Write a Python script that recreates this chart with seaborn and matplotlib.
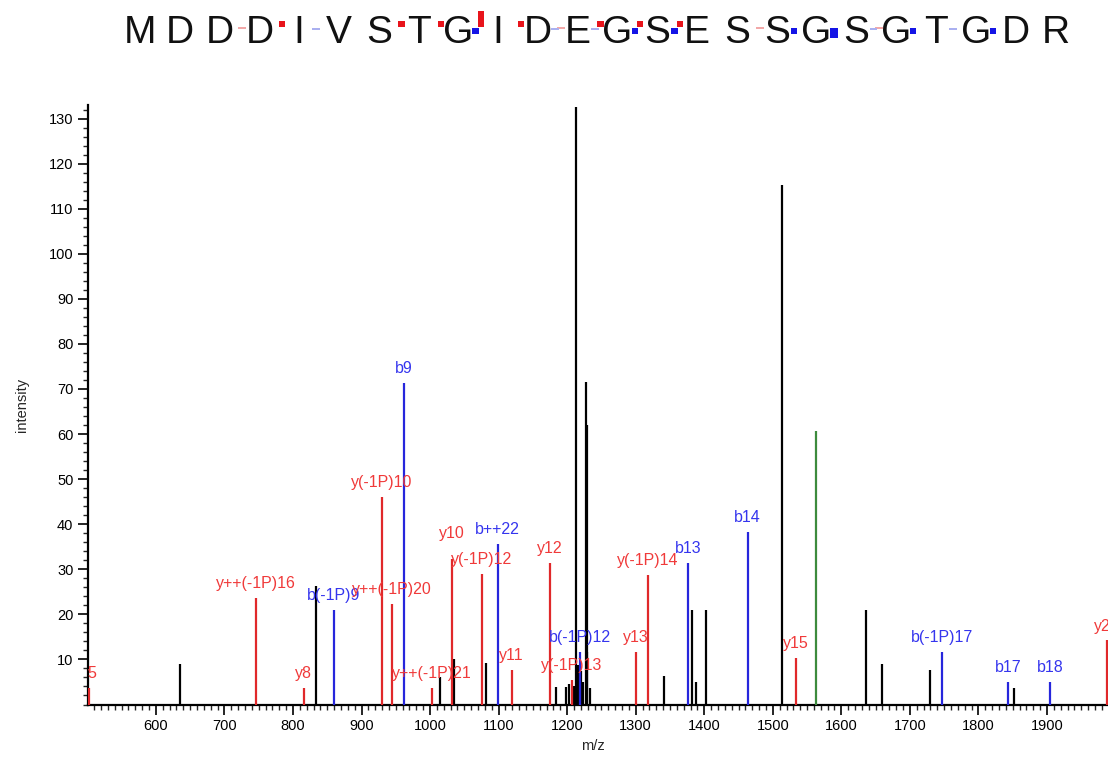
import matplotlib
matplotlib.use('Agg')
import numpy as np
import pandas as pd
import seaborn as sns
import matplotlib.pyplot as plt
from matplotlib.ticker import MultipleLocator, FixedLocator

# peptide shown above the spectrum
sequence = list('MDDDIVSTGIDEGSESSGSGTGDR')
# coverage per cleavage site (after residue k): 0 none, 1 weak, 2 medium, 3 strong
y_cov = [0, 0, 1, 2, 0, 0, 2, 2, 3, 2, 1, 2, 2, 2, 0, 1, 0, 0, 1, 0, 0, 0, 0]
b_cov = [0, 0, 0, 0, 1, 0, 0, 0, 2, 0, 1, 1, 2, 2, 0, 0, 2, 3, 1, 2, 1, 2, 0]

# spectrum peaks
mz = [502.7, 635.0, 745.9, 815.5, 833.0, 859.3, 929.7, 944.3, 961.8, 1002.7,
      1014.4, 1031.4, 1034.3, 1075.6, 1081.5, 1098.5, 1119.0, 1174.8, 1183.6,
      1197.8, 1203.0, 1206.5, 1209.9, 1212.8, 1215.5, 1218.6, 1220.5, 1222.5,
      1227.4, 1228.6, 1229.6, 1233.2, 1300.3, 1317.8, 1341.2, 1376.2, 1381.6,
      1387.9, 1402.5, 1463.3, 1513.3, 1533.8, 1562.7, 1635.9, 1659.2, 1729.3,
      1746.8, 1843.1, 1851.8, 1904.3, 1987.5]
intensity = [3.7, 8.9, 23.6, 3.7, 26.4, 20.9, 46.0, 22.3, 71.3, 3.7,
             6.1, 32.3, 10.2, 29.0, 9.1, 35.6, 7.6, 31.5, 3.8,
             3.8, 4.5, 5.4, 4.0, 132.5, 8.7, 11.7, 7.5, 5.0,
             71.6, 62.0, 11.7, 3.6, 11.7, 28.8, 6.3, 31.5, 21.0,
             5.0, 21.0, 38.2, 115.2, 10.3, 60.7, 20.9, 8.9, 7.6,
             11.6, 5.0, 3.6, 5.0, 14.2]
ion = ['y', 'o', 'y', 'y', 'o', 'b', 'y', 'y', 'b', 'y',
       'o', 'y', 'o', 'y', 'o', 'b', 'y', 'y', 'o',
       'o', 'o', 'y', 'o', 'o', 'o', 'b', 'o', 'o',
       'o', 'o', 'o', 'o', 'y', 'y', 'o', 'b', 'o',
       'o', 'o', 'b', 'o', 'y', 'g', 'o', 'o', 'o',
       'b', 'b', 'o', 'b', 'y']
labels = ['y5', '', 'y++(-1P)16', 'y8', '', 'b(-1P)9', 'y(-1P)10', 'y++(-1P)20', 'b9', 'y++(-1P)21',
          '', 'y10', '', 'y(-1P)12', '', 'b++22', 'y11', 'y12', '',
          '', '', 'y(-1P)13', '', '', '', 'b(-1P)12', '', '',
          '', '', '', '', 'y13', 'y(-1P)14', '', 'b13', '',
          '', '', 'b14', '', 'y15', '', '', '', '',
          'b(-1P)17', 'b17', '', 'b18', 'y21']

line_colors = {'o': 'black', 'y': '#e0282a', 'b': '#2626dc', 'g': '#3d8b3d'}
text_colors = {'y': '#f03a3a', 'b': '#3535ee'}

df = pd.DataFrame({'mz': mz, 'intensity': intensity, 'ion': ion, 'label': labels})

sns.set_style('ticks')
plt.rcParams['font.family'] = ['Liberation Sans', 'DejaVu Sans']

W, H = 1108, 760
fig = plt.figure(figsize=(W / 100, H / 100), dpi=100)

# ---- spectrum ----
ax = fig.add_axes([88 / W, 1 - 704.5 / H, 1 - 88 / W, (704.5 - 105) / H])
for kind, z in [('o', 2), ('g', 3), ('y', 3), ('b', 4)]:
    grp = df[df['ion'] == kind]
    ax.vlines(grp['mz'], 0, grp['intensity'], colors=line_colors[kind], lw=1.6, zorder=z)

for _, r in df[df['label'] != ''].iterrows():
    dy = 13 if r['label'] == 'y10' else 5
    t = ax.annotate(r['label'], (r['mz'], r['intensity']), xytext=(0, dy),
                    textcoords='offset points', ha='center', va='bottom',
                    color=text_colors[r['ion']], fontsize=11.5, zorder=5)
    t.set_clip_path(ax.patch)

ax.set_xlim(501, 1989)
ax.set_ylim(0, 133)
ax.xaxis.set_major_locator(MultipleLocator(100))
ax.xaxis.set_minor_locator(MultipleLocator(10))
ax.yaxis.set_major_locator(FixedLocator(np.arange(10, 131, 10)))
ax.yaxis.set_minor_locator(MultipleLocator(2))
ax.tick_params(which='major', direction='out', length=7, width=1.2, labelsize=10.5, colors='black')
ax.tick_params(which='minor', direction='out', length=3.5, width=1.0)
sns.despine(ax=ax)
for s in ['left', 'bottom']:
    ax.spines[s].set_linewidth(1.6)
    ax.spines[s].set_color('black')
ax.set_xlabel('m/z', fontsize=10.5)
ax.set_ylabel('intensity', fontsize=10.5)
ax.xaxis.set_label_coords(0.495, -0.058)
ax.yaxis.set_label_coords(-0.058, 0.5)

# ---- sequence header ----
hx = fig.add_axes([0, 1 - 60 / H, 1, 60 / H])
hx.axis('off')
step = 39.8
hx.set_xlim(-140 / step, (W - 140) / step)
hx.set_ylim(60, 0)
for i, aa in enumerate(sequence):
    hx.text(i, 43, aa, ha='center', va='baseline', fontsize=28, color='#111111')

y_h = {1: -2, 2: -6, 3: -16}
b_h = {1: 2, 2: 6, 3: 10}
for k in range(len(y_cov)):
    xs = k + 0.5
    v = y_cov[k]
    if v:
        c = '#f2a8a8' if v == 1 else '#e8141b'
        w = 0.2 if v == 1 else 0.16
        base = 29 if v == 1 else 27
        hx.bar(xs + 0.07, y_h[v], bottom=base, width=w, color=c, lw=0)
    v = b_cov[k]
    if v:
        c = '#aab0f0' if v == 1 else '#1414e6'
        w = 0.2 if v == 1 else (0.2 if v == 3 else 0.16)
        base = 28
        hx.bar(xs - 0.07, b_h[v], bottom=base, width=w, color=c, lw=0)

fig.savefig('out.png', dpi=100)
